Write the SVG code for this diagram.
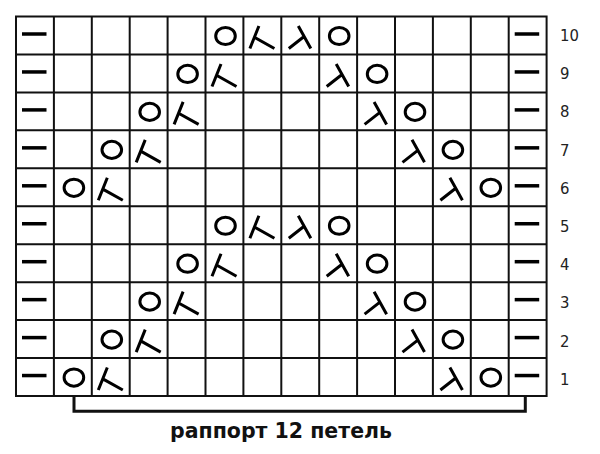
<svg xmlns="http://www.w3.org/2000/svg" xmlns:xlink="http://www.w3.org/1999/xlink" width="600" height="454" viewBox="0 0 600 454">
<style>
.grid{stroke:#111;stroke-width:2;fill:none}
.sym{stroke:#000;stroke-width:3;fill:none}
.dash{stroke:#000;stroke-width:3.5}
.num{font-family:"DejaVu Sans Condensed","DejaVu Sans",Verdana,sans-serif;font-stretch:condensed;font-size:16.5px;fill:#222}
.lbl{font-family:"DejaVu Sans",Verdana,sans-serif;font-size:22px;font-weight:bold;fill:#111}
.br{stroke:#111;stroke-width:3;fill:none}
</style>
<defs>
<line id="d" class="dash" x1="6" y1="17.5" x2="30.5" y2="17.5"/>
<ellipse id="o" class="sym" cx="20" cy="19.5" rx="9.8" ry="8.6"/>
<path id="a" class="sym" d="M15.5,9.5 L6.5,32 M11,20.8 L31,32"/>
<path id="b" class="sym" d="M17,9.5 L29.5,32 M22.8,20 L7.5,32"/>
</defs>
<rect x="0" y="0" width="600" height="454" fill="#fff"/>
<g id="grid" class="grid">
<rect x="16" y="16.5" width="530.6" height="379.5"/>
<path d="M53.9,16.5V396 M91.8,16.5V396 M129.7,16.5V396 M167.6,16.5V396 M205.5,16.5V396 M243.4,16.5V396 M281.3,16.5V396 M319.2,16.5V396 M357.1,16.5V396 M395,16.5V396 M432.9,16.5V396 M470.8,16.5V396 M508.7,16.5V396"/>
<path d="M16,54.45H546.6 M16,92.4H546.6 M16,130.35H546.6 M16,168.3H546.6 M16,206.25H546.6 M16,244.2H546.6 M16,282.15H546.6 M16,320.1H546.6 M16,358.05H546.6"/>
</g>
<g id="row10">
<use xlink:href="#d" x="16" y="16.5"/><use xlink:href="#o" x="205.5" y="16.5"/><use xlink:href="#a" x="243.4" y="16.5"/><use xlink:href="#b" x="281.3" y="16.5"/><use xlink:href="#o" x="319.2" y="16.5"/><use xlink:href="#d" x="508.7" y="16.5"/>
</g>
<g id="row9">
<use xlink:href="#d" x="16" y="54.45"/><use xlink:href="#o" x="167.6" y="54.45"/><use xlink:href="#a" x="205.5" y="54.45"/><use xlink:href="#b" x="319.2" y="54.45"/><use xlink:href="#o" x="357.1" y="54.45"/><use xlink:href="#d" x="508.7" y="54.45"/>
</g>
<g id="row8">
<use xlink:href="#d" x="16" y="92.4"/><use xlink:href="#o" x="129.7" y="92.4"/><use xlink:href="#a" x="167.6" y="92.4"/><use xlink:href="#b" x="357.1" y="92.4"/><use xlink:href="#o" x="395" y="92.4"/><use xlink:href="#d" x="508.7" y="92.4"/>
</g>
<g id="row7">
<use xlink:href="#d" x="16" y="130.35"/><use xlink:href="#o" x="91.8" y="130.35"/><use xlink:href="#a" x="129.7" y="130.35"/><use xlink:href="#b" x="395" y="130.35"/><use xlink:href="#o" x="432.9" y="130.35"/><use xlink:href="#d" x="508.7" y="130.35"/>
</g>
<g id="row6">
<use xlink:href="#d" x="16" y="168.3"/><use xlink:href="#o" x="53.9" y="168.3"/><use xlink:href="#a" x="91.8" y="168.3"/><use xlink:href="#b" x="432.9" y="168.3"/><use xlink:href="#o" x="470.8" y="168.3"/><use xlink:href="#d" x="508.7" y="168.3"/>
</g>
<g id="row5">
<use xlink:href="#d" x="16" y="206.25"/><use xlink:href="#o" x="205.5" y="206.25"/><use xlink:href="#a" x="243.4" y="206.25"/><use xlink:href="#b" x="281.3" y="206.25"/><use xlink:href="#o" x="319.2" y="206.25"/><use xlink:href="#d" x="508.7" y="206.25"/>
</g>
<g id="row4">
<use xlink:href="#d" x="16" y="244.2"/><use xlink:href="#o" x="167.6" y="244.2"/><use xlink:href="#a" x="205.5" y="244.2"/><use xlink:href="#b" x="319.2" y="244.2"/><use xlink:href="#o" x="357.1" y="244.2"/><use xlink:href="#d" x="508.7" y="244.2"/>
</g>
<g id="row3">
<use xlink:href="#d" x="16" y="282.15"/><use xlink:href="#o" x="129.7" y="282.15"/><use xlink:href="#a" x="167.6" y="282.15"/><use xlink:href="#b" x="357.1" y="282.15"/><use xlink:href="#o" x="395" y="282.15"/><use xlink:href="#d" x="508.7" y="282.15"/>
</g>
<g id="row2">
<use xlink:href="#d" x="16" y="320.1"/><use xlink:href="#o" x="91.8" y="320.1"/><use xlink:href="#a" x="129.7" y="320.1"/><use xlink:href="#b" x="395" y="320.1"/><use xlink:href="#o" x="432.9" y="320.1"/><use xlink:href="#d" x="508.7" y="320.1"/>
</g>
<g id="row1">
<use xlink:href="#d" x="16" y="358.05"/><use xlink:href="#o" x="53.9" y="358.05"/><use xlink:href="#a" x="91.8" y="358.05"/><use xlink:href="#b" x="432.9" y="358.05"/><use xlink:href="#o" x="470.8" y="358.05"/><use xlink:href="#d" x="508.7" y="358.05"/>
</g>
<g id="numbers" class="num">
<text x="560" y="41">10</text>
<text x="560" y="79.2">9</text>
<text x="560" y="117.4">8</text>
<text x="560" y="155.6">7</text>
<text x="560" y="193.8">6</text>
<text x="560" y="232">5</text>
<text x="560" y="270.2">4</text>
<text x="560" y="308.4">3</text>
<text x="560" y="346.6">2</text>
<text x="560" y="384.8">1</text>
</g>
<g id="connectors">
<path class="br" d="M74,396.5V411.3H525.3V396.5"/>
</g>
<g id="label">
<text class="lbl" x="170" y="438" textLength="222" lengthAdjust="spacingAndGlyphs">раппорт 12 петель</text>
</g>
</svg>
